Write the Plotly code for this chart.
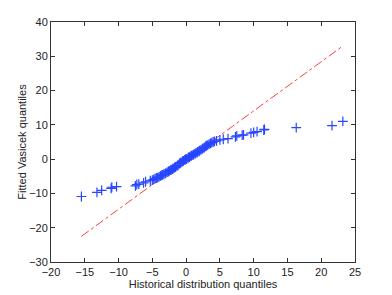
import plotly.graph_objects as go

# Historical (x) vs fitted Vasicek (y) quantiles
hist_q = [-15.5, -13.2, -12.5, -11.1, -11.0, -10.3, -7.5, -7.3, -7.0, -6.3, -6.0, -5.3, -5.0,
          -4.8, -4.6, -4.4, -4.2, -4.0, -3.8, -3.6, -3.5, -3.3, -3.1, -3.0, -2.8, -2.6, -2.5,
          -2.3, -2.2, -2.0, -1.9, -1.7, -1.6, -1.5, -1.3, -1.2, -1.0, -0.9, -0.8, -0.6, -0.5,
          -0.4, -0.2, -0.1, 0.0, 0.1, 0.3, 0.4, 0.5, 0.7, 0.8, 1.0, 1.1, 1.3, 1.4, 1.6, 1.7,
          1.9, 2.0, 2.2, 2.4, 2.5, 2.7, 2.9, 3.0, 3.2, 3.4, 3.6, 3.8, 4.0, 4.2,
          4.5, 5.0, 5.5, 6.2, 7.3, 7.5, 8.3, 8.5, 9.6, 10.0, 10.5, 11.5, 11.6, 16.3, 21.6, 23.2]
vasicek_q = [-10.9, -9.7, -9.1, -8.5, -8.2, -8.0, -7.8, -7.4, -7.3, -6.9, -6.6, -6.3, -6.1,
             -5.9, -5.7, -5.5, -5.4, -5.2, -4.9, -4.7, -4.6, -4.4, -4.2, -4.1, -3.8, -3.6, -3.4,
             -3.2, -3.1, -2.9, -2.7, -2.5, -2.3, -2.2, -1.9, -1.8, -1.3, -1.2, -1.0, -0.8, -0.6,
             -0.5, -0.2, -0.1, 0.0, 0.1, 0.4, 0.5, 0.6, 0.9, 1.0, 1.2, 1.3, 1.6, 1.7, 1.9, 2.1,
             2.3, 2.5, 2.7, 3.0, 3.2, 3.4, 3.7, 3.9, 4.1, 4.4, 4.6, 4.8, 5.0, 5.2,
             5.3, 5.6, 5.8, 6.0, 6.5, 6.8, 7.0, 7.1, 7.6, 7.8, 8.0, 8.5, 8.7, 9.2, 9.8, 11.0]

# Reference lines (endpoints)
fit_x = [-15.5, 23.2]
fit_y = [-22.5, 33.0]
iqr_x = [-2.5, 1.8]
iqr_y = [-3.8, 2.4]

fig = go.Figure()
fig.add_trace(go.Scatter(x=fit_x, y=fit_y, mode="lines",
                         line=dict(color="rgb(255,60,60)", width=1, dash="dashdot"),
                         showlegend=False, hoverinfo="skip"))
fig.add_trace(go.Scatter(x=iqr_x, y=iqr_y, mode="lines",
                         line=dict(color="rgb(0,160,0)", width=1),
                         showlegend=False, hoverinfo="skip"))
fig.add_trace(go.Scatter(x=hist_q, y=vasicek_q, mode="markers",
                         marker=dict(symbol="cross-thin-open", size=7, color="rgb(40,70,255)",
                                     line=dict(color="rgb(40,70,255)", width=1.2)),
                         showlegend=False))

axis_common = dict(showgrid=False, zeroline=False, showline=True, linecolor="#333",
                   linewidth=1, mirror="ticks", ticks="inside", ticklen=4, automargin=False,
                   tickcolor="#333", tickfont=dict(family="Liberation Sans, Arial", size=11, color="#222"))
fig.update_xaxes(range=[-20, 25], dtick=5, tick0=-20,
                 title=dict(text="Historical distribution quantiles", standoff=0,
                            font=dict(family="Liberation Sans, Arial", size=11, color="#222")),
                 **axis_common)
fig.update_yaxes(range=[-30, 40], dtick=10, tick0=-30,
                 title=dict(text="Fitted Vasicek quantiles", standoff=0,
                            font=dict(family="Liberation Sans, Arial", size=11, color="#222")),
                 **axis_common)
# page body adds an 8px offset, so the figure is 8px smaller and margins shifted
fig.update_layout(width=384, height=287, margin=dict(l=43, r=37, t=14, b=33),
                  plot_bgcolor="white", paper_bgcolor="white")
fig.write_html("out.html")
